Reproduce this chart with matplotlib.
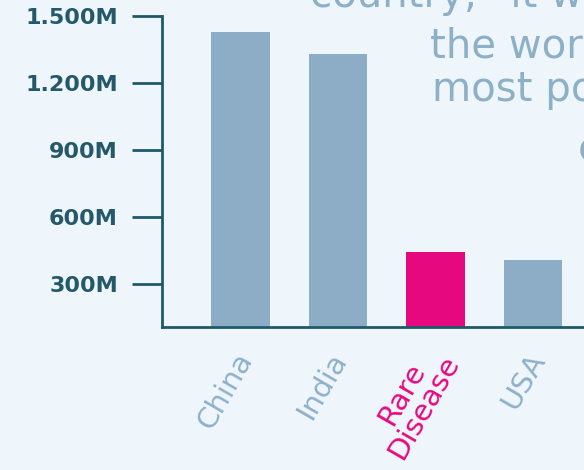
import matplotlib
matplotlib.use("Agg")
import matplotlib.pyplot as plt
import matplotlib.transforms as mtransforms

# ---- data ----
categories = ["China", "India", "Rare\nDisease", "USA"]
populations_m = [1425, 1330, 445, 410]          # millions
highlight = [False, False, True, False]
ytick_values = [300, 600, 900, 1200, 1500]
ytick_labels = ["300M", "600M", "900M", "1.200M", "1.500M"]
caption_lines = ["country,\u201d it would be", "the world's 3rd", "most populous", "country."]

# ---- style ----
BG = "#eef6fc"
BAR = "#8cadc5"
MAGENTA = "#e6087f"
AXIS = "#1f5a68"
YLAB = "#24596a"
XLAB = "#8eb1c9"
CAPTION = "#8db0c7"

W, H = 584, 470
fig = plt.figure(figsize=(W / 100, H / 100), dpi=100, facecolor=BG)
ax = fig.add_axes([162.5 / W, 143 / H, 438.75 / W, 311.5 / H])
ax.set_facecolor(BG)

x = list(range(len(categories)))
colors = [MAGENTA if h else BAR for h in highlight]
ax.bar(x, populations_m, width=0.6, color=colors, zorder=2)

ax.set_xlim(-0.8, 3.7)
ax.set_ylim(110, 1500)

for s in ["top", "right"]:
    ax.spines[s].set_visible(False)
for s in ["left", "bottom"]:
    ax.spines[s].set_color(AXIS)
    ax.spines[s].set_linewidth(2)
    ax.spines[s].set_zorder(3)

ax.set_yticks(ytick_values)
ax.set_yticklabels(ytick_labels, fontsize=16, fontweight="bold", color=YLAB,
                   family="DejaVu Sans")
ax.tick_params(axis="y", length=21.6, width=2, color=AXIS, pad=10.5)

ax.set_xticks(x)
ax.set_xticklabels(categories, rotation=60, ha="right", va="center",
                   rotation_mode="anchor", fontsize=21, color=XLAB,
                   multialignment="center", family="DejaVu Sans",
                   linespacing=0.9)
ax.tick_params(axis="x", length=0, pad=20)
for i, (lab, h) in enumerate(zip(ax.get_xticklabels(), highlight)):
    dx, dy = (6, 0)
    if i == 1:
        dx = 2
    if h:
        lab.set_color(MAGENTA)
        dx, dy = (6, 4)
    off = mtransforms.ScaledTranslation(dx / 100, dy / 100, fig.dpi_scale_trans)
    lab.set_transform(lab.get_transform() + off)

# caption (partially cropped paragraph)
cap_pos = [(310, 7), (430, 57), (432, 101), (578, 161)]
for txt, (px, py) in zip(caption_lines, cap_pos):
    fig.text(px / W, 1 - py / H, txt, fontsize=29, color=CAPTION,
             ha="left", va="baseline", family="DejaVu Sans")

fig.savefig("out.png", dpi=100, facecolor=BG)
